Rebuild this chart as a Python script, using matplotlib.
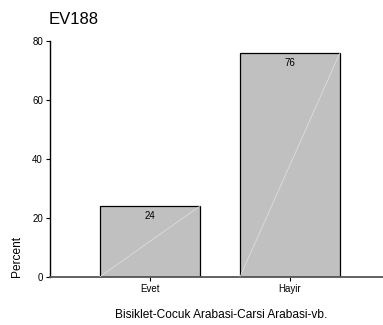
import matplotlib
matplotlib.use("Agg")
import matplotlib.pyplot as plt

plt.rcParams['font.family'] = ['Liberation Sans', 'DejaVu Sans']

title = "EV188"
categories = ["Evet", "Hayir"]
percents = [24, 76]
value_labels = ["24", "76"]
y_ticks = [0, 20, 40, 60, 80]
x_label = "Bisiklet-Cocuk Arabasi-Carsi Arabasi-vb."
y_label = "Percent"

W, H = 383, 325
fig = plt.figure(figsize=(W / 100, H / 100), dpi=100)
ax = fig.add_axes([50 / W, 48.3 / H, 340 / W, 235.7 / H])

bar_w = 0.714
xs = list(range(len(categories)))
ax.bar(xs, percents, width=bar_w, color="#c0c0c0", edgecolor="black",
       linewidth=0.9, zorder=2)

# faint diagonal across each bar
for x, v in zip(xs, percents):
    ax.plot([x - bar_w / 2, x + bar_w / 2], [0, v], color="#e2e2e2",
            linewidth=0.5, zorder=3)

for x, v, lab in zip(xs, percents, value_labels):
    ax.annotate(lab, (x, v), xytext=(0, -7), textcoords="offset points",
                ha="center", va="center", fontsize=7, zorder=4)

ax.set_xlim(-bar_w, len(categories) - 1 + bar_w)
ax.set_ylim(0, 80)
ax.set_yticks(y_ticks)
ax.set_xticks(xs)
ax.set_xticklabels(categories)
ax.tick_params(axis="both", labelsize=7, length=3, width=0.8, pad=2)

for s in ("top", "right"):
    ax.spines[s].set_visible(False)
ax.spines["left"].set_linewidth(1.0)
ax.spines["bottom"].set_linewidth(1.3)
ax.spines["bottom"].set_color("#555555")

fig.text(221 / W, 1 - 315 / H, x_label, ha="center", va="center", fontsize=8.6)
fig.text(17 / W, 1 - 256 / H, y_label, rotation=90, ha="center", va="center",
         fontsize=8.6)
fig.text(49 / W, 1 - 19.5 / H, title, ha="left", va="center", fontsize=12)

fig.savefig("out.png", dpi=100)
